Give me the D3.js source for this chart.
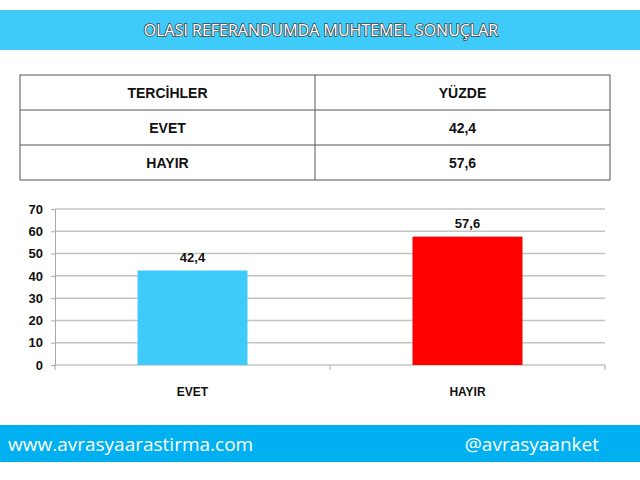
<!DOCTYPE html>
<html>
<head>
<meta charset="utf-8">
<script src="https://cdn.jsdelivr.net/npm/d3@7"></script>
<style>
  body { margin: 0; background: #fff; }
  svg { display: block; }
</style>
</head>
<body>
<div id="chart"></div>
<script>
// chart size
var w = 640;
var h = 480;

// data
var categories = ["EVET", "HAYIR"];
var values = [42.4, 57.6];
var valueLabels = ["42,4", "57,6"];
var barColors = ["#3ecbfb", "#ff0000"];
var yTicks = [0, 10, 20, 30, 40, 50, 60, 70];
var tableHeader = ["TERCİHLER", "YÜZDE"];
var title = "OLASI REFERANDUMDA MUHTEMEL SONUÇLAR";
var footerLeft = "www.avrasyaarastirma.com";
var footerRight = "@avrasyaanket";

var svg = d3.select("#chart")
  .append("svg")
  .attr("width", w)
  .attr("height", h);

// title bar
svg.append("rect")
  .attr("x", 0).attr("y", 10)
  .attr("width", w).attr("height", 40)
  .attr("fill", "#3ecbfa");

svg.append("text")
  .attr("x", 321).attr("y", 36)
  .attr("text-anchor", "middle")
  .attr("font-family", "'Liberation Sans Narrow', 'Open Sans', sans-serif")
  .attr("font-size", 16)
  .attr("fill", "#fff")
  .style("paint-order", "stroke")
  .attr("stroke", "#444")
  .attr("stroke-width", 1.6)
  .text(title);

// table
var tableX = [20, 315, 610];
var tableY = [75, 110, 145, 180];
var rows = [tableHeader].concat(categories.map(function(c, i) { return [c, valueLabels[i]]; }));

var tbl = svg.append("g");
tbl.append("rect")
  .attr("x", tableX[0]).attr("y", tableY[0])
  .attr("width", tableX[2] - tableX[0]).attr("height", tableY[3] - tableY[0])
  .attr("fill", "none").attr("stroke", "#555").attr("stroke-width", 1);
tableY.slice(1, 3).forEach(function(y) {
  tbl.append("line")
    .attr("x1", tableX[0]).attr("x2", tableX[2])
    .attr("y1", y).attr("y2", y)
    .attr("stroke", "#555");
});
tbl.append("line")
  .attr("x1", tableX[1]).attr("x2", tableX[1])
  .attr("y1", tableY[0]).attr("y2", tableY[3])
  .attr("stroke", "#555");

rows.forEach(function(r, i) {
  r.forEach(function(cell, j) {
    tbl.append("text")
      .attr("x", (tableX[j] + tableX[j + 1]) / 2)
      .attr("y", (tableY[i] + tableY[i + 1]) / 2 + 5)
      .attr("text-anchor", "middle")
      .attr("font-family", "'Liberation Sans Narrow', 'Liberation Sans', sans-serif")
      .attr("font-weight", "bold")
      .attr("font-size", 14)
      .attr("fill", "#111")
      .text(cell);
  });
});

// bar chart
var plotLeft = 55, plotRight = 605, plotTop = 209, plotBottom = 365;

var xScale = d3.scaleBand()
  .domain(categories)
  .range([plotLeft, plotRight])
  .paddingInner(0.6)
  .paddingOuter(0.3);

var yScale = d3.scaleLinear()
  .domain([0, 70])
  .range([plotBottom, plotTop]);

// gridlines
svg.append("g")
  .selectAll("line")
  .data(yTicks.slice(1))
  .enter()
  .append("line")
  .attr("x1", plotLeft).attr("x2", plotRight)
  .attr("y1", function(d) { return yScale(d); })
  .attr("y2", function(d) { return yScale(d); })
  .attr("stroke", "#c4c4c4")
  .attr("stroke-width", 1.5);

// y axis
var yAxis = d3.axisLeft(yScale)
  .tickValues(yTicks)
  .tickSize(4)
  .tickPadding(8);

var yG = svg.append("g")
  .attr("transform", "translate(" + plotLeft + ",0)")
  .call(yAxis);
yG.selectAll("path, line").attr("stroke", "#a8a8a8");
yG.selectAll("text")
  .attr("font-family", "'Liberation Sans', Arial, sans-serif")
  .attr("font-weight", "bold")
  .attr("font-size", 13)
  .attr("fill", "#111");

// x axis baseline + ticks at category boundaries
svg.append("line")
  .attr("x1", plotLeft).attr("x2", plotRight)
  .attr("y1", plotBottom).attr("y2", plotBottom)
  .attr("stroke", "#a8a8a8").attr("stroke-width", 1.2);

var boundaries = [plotLeft, (plotLeft + plotRight) / 2, plotRight];
svg.append("g")
  .selectAll("line")
  .data(boundaries)
  .enter()
  .append("line")
  .attr("x1", function(d) { return d; })
  .attr("x2", function(d) { return d; })
  .attr("y1", plotBottom).attr("y2", plotBottom + 5)
  .attr("stroke", "#a8a8a8");

// bars
svg.selectAll("rect.bar")
  .data(values)
  .enter()
  .append("rect")
  .attr("class", "bar")
  .attr("x", function(d, i) { return xScale(categories[i]); })
  .attr("y", function(d) { return yScale(d); })
  .attr("width", xScale.bandwidth())
  .attr("height", function(d) { return plotBottom - yScale(d); })
  .attr("fill", function(d, i) { return barColors[i]; });

// value labels
svg.selectAll("text.val")
  .data(values)
  .enter()
  .append("text")
  .attr("class", "val")
  .attr("x", function(d, i) { return xScale(categories[i]) + xScale.bandwidth() / 2; })
  .attr("y", function(d) { return yScale(d) - 9; })
  .attr("text-anchor", "middle")
  .attr("font-family", "'Liberation Sans', Arial, sans-serif")
  .attr("font-weight", "bold")
  .attr("font-size", 13)
  .attr("fill", "#111")
  .text(function(d, i) { return valueLabels[i]; });

// category labels
svg.selectAll("text.cat")
  .data(categories)
  .enter()
  .append("text")
  .attr("class", "cat")
  .attr("x", function(d) { return xScale(d) + xScale.bandwidth() / 2; })
  .attr("y", 396)
  .attr("text-anchor", "middle")
  .attr("font-family", "'Liberation Sans', Arial, sans-serif")
  .attr("font-weight", "bold")
  .attr("font-size", 12)
  .attr("fill", "#111")
  .text(function(d) { return d; });

// footer bar
svg.append("rect")
  .attr("x", 0).attr("y", 425)
  .attr("width", w).attr("height", 37)
  .attr("fill", "#00b0f0");

svg.append("text")
  .attr("x", 8).attr("y", 451)
  .attr("font-family", "'Open Sans', sans-serif")
  .attr("font-size", 19)
  .attr("fill", "#fff")
  .text(footerLeft);

svg.append("text")
  .attr("x", 599).attr("y", 451)
  .attr("text-anchor", "end")
  .attr("font-family", "'Open Sans', sans-serif")
  .attr("font-size", 19)
  .attr("fill", "#fff")
  .text(footerRight);
</script>
</body>
</html>
